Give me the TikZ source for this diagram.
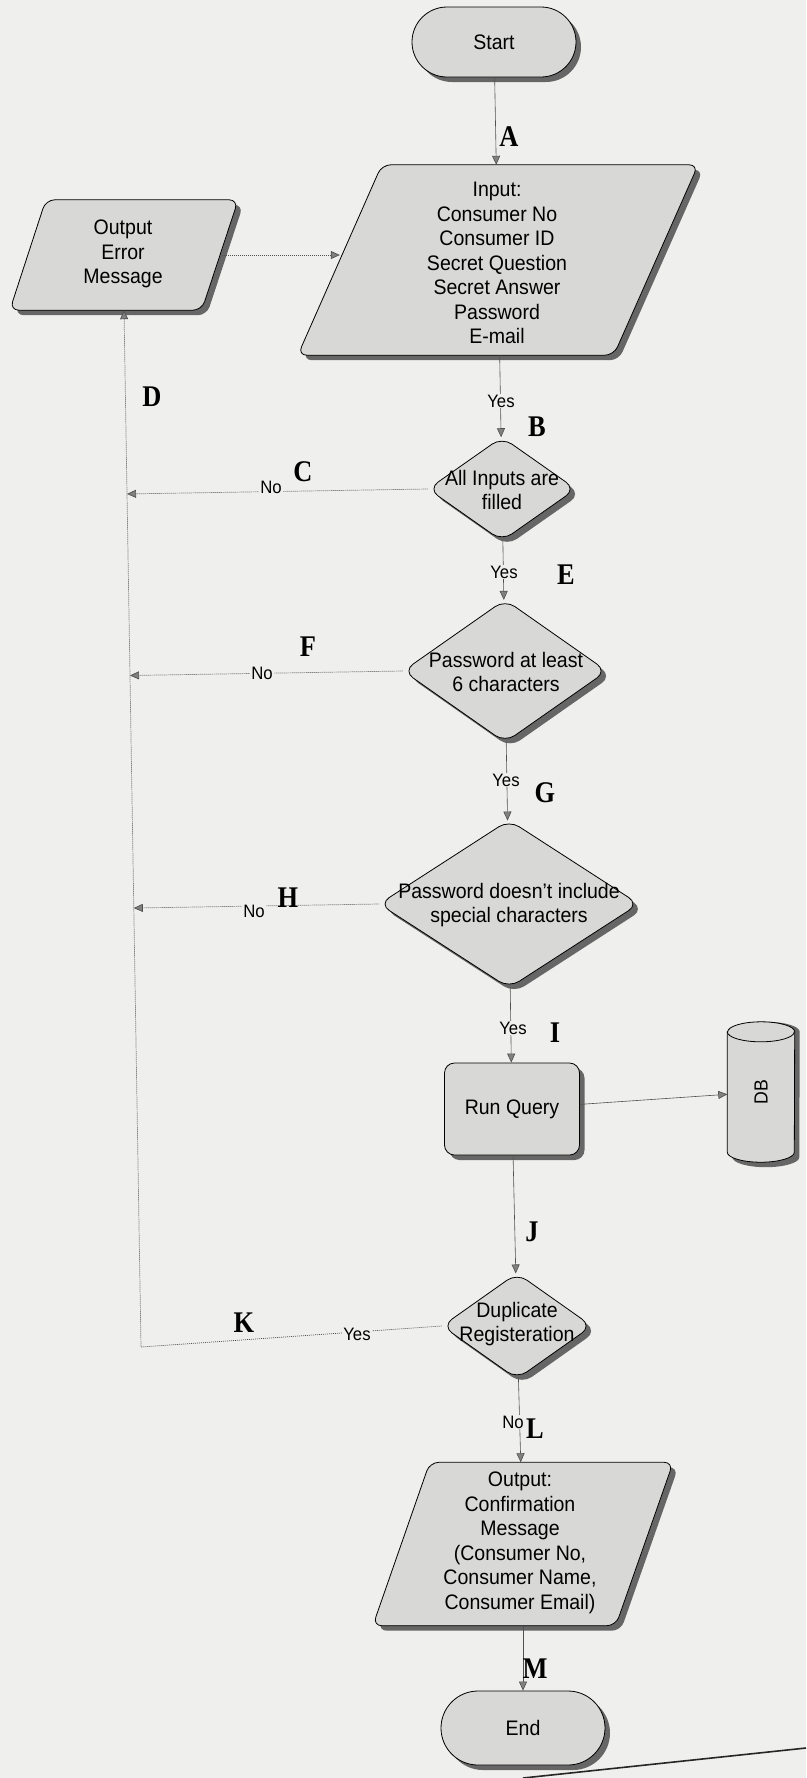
\documentclass[tikz,border=0pt]{standalone}
\usepackage{fontspec}
\setmainfont{Liberation Sans}
\newfontfamily\nar[FakeStretch=0.93]{Liberation Sans}
\newfontfamily\lett[FakeStretch=0.88]{Liberation Serif}
\usetikzlibrary{shapes.geometric,shapes.misc,shadows,arrows.meta,calc}
\definecolor{bg}{HTML}{EFEFED}
\definecolor{shp}{HTML}{D8D8D6}
\definecolor{shd}{HTML}{666666}
\definecolor{ln}{HTML}{505050}
\tikzset{
  shadowed/.style={drop shadow={shadow xshift=5pt, shadow yshift=-5pt, fill=shd, opacity=1}},
  base/.style={draw=black, line width=0.8pt, fill=shp, inner sep=2pt, shadowed},
  term/.style={base, rounded rectangle, minimum width=168pt, minimum height=70pt,
    font=\nar\fontsize{21}{24.5}\selectfont},
  anchorbox/.style={draw=none, fill=none, inner sep=0pt},
  pshape/.style={draw=black, line width=0.8pt, fill=shp, rounded corners=9pt, shadowed},
  dec/.style={base, diamond, rounded corners=12pt},
  proc/.style={base, rectangle, rounded corners=10pt, minimum width=135pt, minimum height=92pt,
    font=\nar\fontsize{21}{24.5}\selectfont},
  txt/.style={align=center, font=\nar\fontsize{21}{24.5}\selectfont, inner sep=0pt},
  yn/.style={font=\nar\fontsize{18}{20}\selectfont, fill=bg, inner sep=1pt},
  letter/.style={font=\lett\bfseries\fontsize{30}{30}\selectfont, inner sep=0pt},
  tip/.style={-{Triangle[length=9pt,width=8pt,fill=gray]}},
  flow/.style={draw=ln, line width=0.6pt, tip},
  dotline/.style={draw=ln, line width=0.7pt, dash pattern=on 1pt off 1pt},
  dotflow/.style={dotline, tip},
}
\begin{document}
\begin{tikzpicture}[x=1pt,y=-1pt]
\useasboundingbox (0,0) rectangle (806,1778);
\fill[bg] (0,0) rectangle (806,1778);

% Start
\node[term] (start) at (494,42) {Start};

% Input parallelogram (w=316, slant=84)
\node[anchorbox, minimum width=400pt, minimum height=190pt] (input) at (498,260) {};
\path[pshape] (input.south west) -- ++(316,0) -- (input.north east)
   -- ($(input.north west)+(84,0)$) -- cycle;
\node[txt] (inputt) at (497,263) {Input:\\Consumer No\\Consumer ID\\Secret Question\\Secret Answer\\Password\\E-mail};
\coordinate (inW) at ($(input.west)+(42,0)$);

% Output Error parallelogram (w=192, slant=36)
\node[anchorbox, minimum width=228pt, minimum height=110pt] (err) at (124,255) {};
\path[pshape] (err.south west) -- ++(192,0) -- (err.north east)
   -- ($(err.north west)+(36,0)$) -- cycle;
\node[txt] (errt) at (123,254) {Output\\Error\\Message};
\coordinate (errE) at ($(err.east)+(-18,0)$);

% decisions
\node[dec, minimum width=148pt, minimum height=104pt] (d1) at (502,489) {\strut};
\node[txt] (d1t) at (502,490) {All Inputs are\\filled};

\node[dec, minimum width=204pt, minimum height=143pt] (d2) at (505,671) {\strut};
\node[txt] (d2t) at (506,672) {Password at least\\6 characters};

\node[dec, minimum width=260pt, minimum height=168pt] (d3) at (509,904) {\strut};
\node[txt] (d3t) at (509,905) {Password doesn’t include\\special characters};

% process
\node[proc] (rq) at (512,1109) {Run Query};

% database cylinder
\node[anchorbox, minimum width=67pt, minimum height=140pt] (db) at (761,1092) {};
\fill[shd] ($(db.north west)+(5,10)$) -- ($(db.south west)+(5,-5)$)
   arc[start angle=180, end angle=0, x radius=33.5, y radius=10]
   -- ($(db.north east)+(5,10)$) arc[start angle=0, end angle=-180, x radius=33.5, y radius=10] -- cycle;
\draw[line width=0.8pt, fill=shp] ($(db.north west)+(0,10)$) -- ($(db.south west)+(0,-10)$)
   arc[start angle=180, end angle=0, x radius=33.5, y radius=10]
   -- ($(db.north east)+(0,10)$) arc[start angle=0, end angle=-180, x radius=33.5, y radius=10] -- cycle;
\draw[line width=0.8pt] ($(db.north west)+(0,10)$) arc[start angle=180, end angle=0, x radius=33.5, y radius=10];
\node[txt, font=\nar\fontsize{19}{22}\selectfont, rotate=90] (dbt) at (db.center) {DB};

\node[dec, minimum width=150pt, minimum height=106pt] (d4) at (517,1326) {\strut};
\node[txt] (d4t) at (517,1324) {Duplicate\\Registeration};

% Output Confirmation parallelogram (w=243, slant=57)
\node[anchorbox, minimum width=300pt, minimum height=163pt] (conf) at (523,1544) {};
\path[pshape] (conf.south west) -- ++(243,0) -- (conf.north east)
   -- ($(conf.north west)+(57,0)$) -- cycle;
\node[txt] (conft) at (520,1543) {Output:\\Confirmation\\Message\\(Consumer No,\\Consumer Name,\\Consumer Email)};

% End
\node[term, minimum height=74pt] (end) at (523,1728) {End};

% main flow
\draw[flow] (start) -- (input);
\draw[flow] (input) -- (d1);
\draw[flow] (d1) -- (d2);
\draw[flow] (d2) -- (d3);
\draw[flow] (d3) -- (rq);
\draw[flow] (rq) -- (db);
\draw[flow] (rq) -- (d4);
\draw[flow] (d4) -- (conf);
\draw[flow] (conf) -- (end);

% error loop
\coordinate (kc) at (141,1347);
\draw[dotflow] (d4.west) -- (kc) -- (err.south);
\draw[dotflow] (d1.west) -- ($(kc)!(d1.west)!(err.south)$);
\draw[dotflow] (d2.west) -- ($(kc)!(d2.west)!(err.south)$);
\draw[dotflow] (d3.west) -- ($(kc)!(d3.west)!(err.south)$);
\draw[dotflow] (errE) -- (errE -| inW);

% Yes / No labels
\node[yn] (y1) at (501,401) {Yes};
\node[yn] (y2) at (504,572) {Yes};
\node[yn] (y3) at (506,780) {Yes};
\node[yn] (y4) at (513,1028) {Yes};
\node[yn] (n1) at (271,487) {No};
\node[yn] (n2) at (262,673) {No};
\node[yn] (n3) at (254,911) {No};
\node[yn] (y5) at (357,1334) {Yes};
\node[yn] (n4) at (513,1422) {No};

% letters
\node[letter] (lA) at (509,137) {A};
\node[letter] (lB) at (537,427) {B};
\node[letter] (lC) at (303,472) {C};
\node[letter] (lD) at (152,397) {D};
\node[letter] (lE) at (566,575) {E};
\node[letter] (lF) at (308,647) {F};
\node[letter] (lG) at (545,793) {G};
\node[letter] (lH) at (288,898) {H};
\node[letter] (lI) at (555,1033) {I};
\node[letter] (lJ) at (532,1232) {J};
\node[letter] (lK) at (244,1323) {K};
\node[letter, fill=bg] (lL) at (535,1429) {L};
\node[letter] (lM) at (535,1669) {M};

% page edge line
\coordinate (pe1) at (523,1778);
\coordinate (pe2) at (806,1748);
\draw[line width=1.6pt, black!85] (pe1) -- (pe2);
\end{tikzpicture}
\end{document}
